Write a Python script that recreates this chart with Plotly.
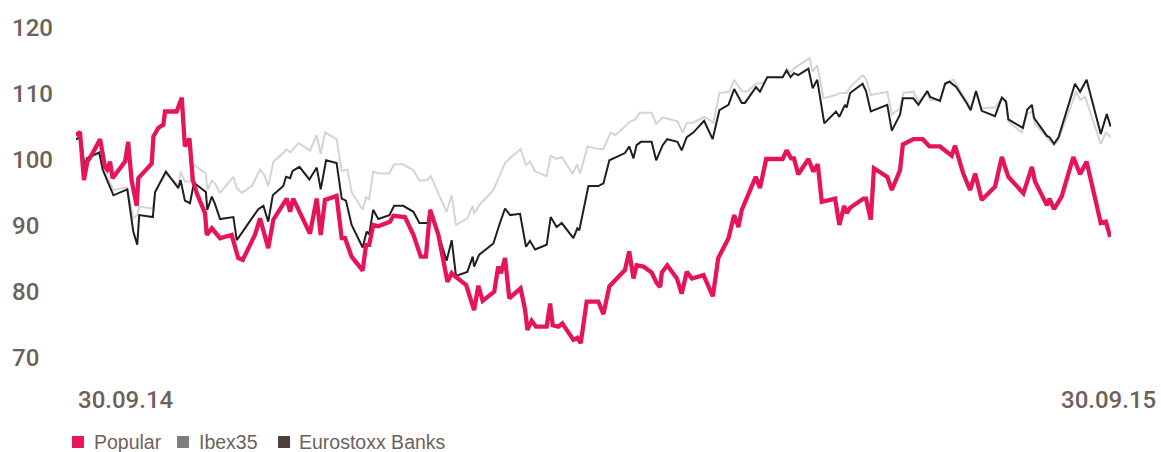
import pandas as pd
import plotly.graph_objects as go

# ---- data (days since 30.09.14, index value) ----
popular_days = [0, 1.4, 2.8, 4.0, 5.5, 8.5, 10.2, 11.0, 12.0, 12.9, 17.3, 18.4, 19.6, 21.4, 22.0, 26.7, 27.3, 29.0,
                30.8, 31.4, 35.5, 37.3, 38.4, 40.0, 41.2, 42.6, 45.5, 46.1, 47.9, 50.8, 54.9, 57.2, 58.8, 63.1, 64.9,
                67.8, 69.6, 74.3, 75.5, 76.6, 82.5, 84.9, 86.3, 87.8, 91.9, 93.7, 94.9, 97.2, 101.1, 102.3, 103.4,
                104.8, 106.6, 110.7, 111.9, 116.0, 119.0, 121.6, 123.4, 124.9, 127.8, 131.0, 132.5, 133.7, 137.6,
                140.4, 141.9, 143.4, 147.5, 148.9, 149.9, 151.3, 152.8, 156.8, 158.4, 159.2, 160.7, 162.2, 166.0,
                167.2, 168.1, 170.1, 171.5, 175.4, 176.8, 178.0, 180.1, 184.2, 186.0, 188.1, 193.6, 195.1, 196.6,
                197.7, 200.1, 203.0, 204.8, 206.0, 206.6, 208.5, 211.9, 213.6, 215.4, 217.2, 221.3, 224.6, 226.5,
                230.1, 232.1, 233.6, 234.8, 239.7, 241.2, 243.4, 249.2, 250.6, 252.2, 253.2, 254.7, 258.3, 260.0,
                261.6, 263.0, 267.7, 269.2, 270.9, 271.8, 273.0, 277.7, 278.6, 280.3, 281.4, 286.1, 287.7, 290.6,
                291.6, 295.3, 298.6, 301.0, 304.7, 308.8, 310.0, 312.9, 315.3, 317.1, 319.4, 324.1, 326.5, 328.8,
                334.1, 337.1, 338.2, 342.4, 343.3, 344.9, 347.6, 351.7, 354.1, 356.4, 361.4, 363.2, 364.7]
popular_vals = [103.6, 104.1, 96.8, 99.6, 100.6, 103.0, 98.8, 98.4, 99.6, 97.1, 99.6, 102.6, 96.8, 92.9, 97.1, 99.3,
                103.4, 104.7, 105.2, 107.2, 107.2, 109.3, 101.9, 103.1, 96.8, 94.8, 91.8, 88.5, 89.5, 88.0, 88.5,
                85.0, 84.7, 88.5, 91.0, 86.5, 90.8, 94.0, 92.0, 94.0, 88.7, 94.0, 88.5, 93.8, 94.4, 88.0, 88.0, 85.2,
                83.1, 87.0, 87.0, 90.0, 89.8, 90.5, 91.4, 91.2, 88.5, 85.2, 85.2, 92.3, 88.5, 81.4, 82.7, 82.2, 80.9,
                77.1, 80.8, 78.5, 79.9, 83.7, 82.7, 85.0, 78.9, 80.4, 77.1, 74.1, 75.5, 74.6, 74.6, 78.1, 74.8, 74.6,
                75.1, 72.6, 72.9, 72.1, 78.4, 78.4, 76.5, 80.7, 83.2, 86.0, 81.9, 83.9, 83.7, 82.8, 81.2, 80.6, 82.8,
                83.9, 81.9, 79.6, 82.9, 81.9, 82.4, 79.2, 85.0, 88.0, 91.5, 89.7, 92.3, 97.3, 95.6, 100.0, 100.0,
                101.3, 100.1, 100.1, 97.7, 100.0, 98.1, 99.2, 93.5, 94.0, 90.0, 92.9, 91.8, 92.6, 94.0, 94.0, 90.8,
                98.6, 97.3, 95.3, 98.3, 102.2, 103.0, 103.0, 101.9, 101.9, 100.5, 102.0, 97.8, 95.3, 97.8, 93.8,
                95.8, 100.3, 97.3, 94.8, 98.8, 96.6, 93.0, 94.0, 92.4, 94.3, 100.3, 97.7, 99.6, 90.3, 90.5, 88.2]

ibex_days = [0, 1.7, 3.2, 3.8, 8.2, 9.4, 13.2, 18.1, 20.2, 21.6, 22.3, 27.1, 27.9, 31.7, 36.1, 36.9, 38.4, 40.2,
             41.6, 45.8, 46.3, 47.9, 49.0, 50.8, 55.5, 56.7, 58.5, 62.0, 64.9, 66.4, 67.8, 69.6, 73.1, 74.3, 75.5,
             78.5, 82.5, 84.9, 86.3, 87.8, 89.5, 91.9, 93.7, 95.7, 97.2, 101.1, 102.3, 103.4, 104.8, 106.6, 110.5,
             112.2, 115.4, 119.0, 121.1, 123.9, 125.1, 130.7, 132.5, 134.0, 138.0, 139.9, 140.4, 142.2, 147.2,
             151.3, 154.0, 156.8, 158.7, 160.1, 161.9, 166.0, 167.4, 169.5, 171.3, 175.1, 176.8, 177.8, 180.4,
             184.2, 186.0, 188.5, 190.2, 195.5, 197.3, 198.8, 203.0, 204.6, 206.9, 212.1, 214.0, 215.4, 217.7,
             221.5, 224.8, 226.9, 230.4, 232.1, 234.8, 236.6, 239.8, 242.4, 243.8, 249.2, 250.6, 252.0, 253.2,
             254.7, 258.7, 259.8, 261.4, 263.6, 268.0, 269.2, 271.8, 273.0, 277.4, 278.6, 280.3, 286.1, 287.7,
             290.6, 291.8, 295.3, 297.1, 300.2, 301.2, 304.7, 306.5, 309.5, 314.1, 315.5, 317.4, 319.4, 324.1,
             326.5, 328.0, 328.8, 333.5, 335.5, 337.1, 338.2, 342.4, 344.9, 346.5, 352.7, 354.1, 355.9, 361.4,
             363.2, 364.9]
ibex_vals = [103.1, 103.0, 98.6, 100.2, 100.8, 98.8, 95.3, 95.7, 91.0, 91.5, 92.8, 92.5, 95.0, 97.8, 96.0, 98.1,
             96.6, 96.6, 99.1, 97.8, 95.3, 96.7, 96.3, 94.9, 97.3, 95.6, 94.9, 95.9, 98.4, 97.6, 95.9, 99.6, 100.9,
             101.5, 101.0, 102.4, 101.3, 103.6, 100.8, 104.0, 103.6, 103.0, 98.2, 98.4, 95.0, 92.3, 94.2, 93.9,
             98.1, 97.8, 97.8, 99.2, 99.2, 98.3, 96.7, 96.8, 97.4, 92.0, 94.5, 90.0, 91.0, 92.9, 91.7, 93.0, 95.3,
             99.4, 100.5, 101.5, 99.1, 99.6, 98.1, 97.4, 100.5, 100.0, 100.3, 97.8, 99.2, 97.8, 101.9, 101.5,
             101.5, 104.0, 103.6, 105.7, 106.0, 107.0, 107.0, 105.3, 106.3, 105.7, 104.0, 105.5, 105.5, 106.4,
             105.5, 110.0, 110.2, 112.0, 110.3, 110.2, 111.4, 111.5, 112.4, 112.4, 113.7, 113.1, 113.7, 114.1,
             115.3, 113.2, 114.2, 109.2, 109.7, 110.0, 110.0, 110.9, 112.7, 112.1, 109.7, 110.2, 106.7, 107.7,
             110.0, 110.2, 108.7, 110.0, 108.9, 109.0, 111.6, 112.0, 108.8, 107.8, 110.0, 107.7, 107.8, 109.2,
             108.5, 105.7, 104.0, 106.8, 107.2, 105.3, 103.3, 102.1, 102.9, 110.2, 109.0, 109.4, 102.3, 104.0,
             103.3]

banks_days = [0, 1.7, 3.2, 3.8, 8.2, 9.4, 13.2, 18.1, 20.2, 21.6, 22.3, 27.1, 27.9, 31.7, 36.1, 36.9, 38.4, 40.2,
              41.6, 45.8, 46.3, 47.9, 49.0, 50.8, 55.5, 56.7, 62.0, 64.3, 66.1, 67.8, 69.4, 73.1, 74.1, 75.5, 76.4,
              78.8, 82.3, 84.9, 86.3, 88.2, 91.9, 93.7, 95.2, 97.2, 101.1, 102.5, 103.4, 104.8, 106.6, 110.5, 112.2,
              115.4, 119.0, 121.1, 123.9, 125.1, 130.7, 132.5, 134.0, 138.0, 139.9, 140.4, 142.2, 147.2, 149.5,
              151.3, 153.1, 156.6, 158.7, 160.1, 161.9, 166.0, 167.4, 169.5, 171.3, 175.4, 176.8, 177.5, 180.7,
              184.2, 186.0, 188.1, 193.6, 195.1, 196.6, 197.7, 199.2, 203.0, 204.6, 206.9, 208.5, 212.1, 213.6,
              215.4, 217.7, 221.5, 224.5, 226.9, 230.1, 232.1, 234.8, 235.9, 239.8, 241.2, 243.8, 249.2, 250.6,
              252.0, 253.2, 254.7, 258.3, 259.8, 261.4, 263.9, 268.0, 269.2, 271.2, 271.8, 273.0, 277.4, 278.6,
              280.3, 286.1, 287.7, 290.6, 291.6, 295.3, 297.1, 300.2, 301.2, 304.7, 306.5, 308.0, 310.4, 314.1,
              315.5, 317.4, 319.4, 324.1, 326.5, 328.0, 328.8, 333.9, 335.5, 337.1, 337.9, 342.4, 343.3, 344.9,
              346.5, 352.3, 354.1, 356.4, 361.4, 363.5, 364.9]
banks_vals = [103.0, 103.3, 98.1, 100.1, 101.0, 98.4, 94.5, 95.4, 89.0, 87.0, 91.5, 91.2, 95.0, 98.1, 95.6, 96.8,
              93.7, 93.3, 96.4, 95.0, 92.3, 94.3, 93.2, 90.9, 91.2, 87.7, 91.0, 92.4, 92.9, 90.5, 94.5, 95.9, 97.3,
              97.1, 98.2, 98.8, 96.9, 98.7, 95.4, 99.8, 99.4, 94.0, 93.7, 90.0, 86.6, 89.0, 88.6, 92.3, 90.9, 91.5,
              92.9, 92.9, 92.0, 90.3, 90.3, 92.3, 84.6, 87.7, 82.3, 82.9, 85.2, 83.7, 85.5, 87.2, 90.3, 92.5, 91.5,
              91.7, 86.7, 87.6, 86.3, 87.0, 91.2, 89.7, 90.3, 88.0, 89.5, 89.2, 95.9, 95.9, 96.3, 99.8, 100.9,
              101.9, 100.1, 102.1, 102.6, 102.6, 99.8, 102.1, 103.0, 102.6, 101.3, 103.3, 104.0, 105.8, 103.0,
              107.4, 108.2, 110.6, 108.5, 108.5, 110.9, 110.2, 112.4, 112.4, 113.4, 112.4, 113.0, 112.7, 113.7,
              110.7, 112.0, 105.4, 107.2, 106.4, 108.2, 107.8, 110.0, 111.4, 110.3, 107.2, 108.2, 104.3, 106.7,
              109.2, 109.2, 108.2, 110.3, 109.4, 108.8, 111.4, 111.7, 110.9, 108.5, 107.4, 110.3, 107.3, 106.5,
              109.3, 108.7, 106.0, 104.7, 107.5, 108.2, 106.2, 103.5, 103.3, 102.3, 103.3, 111.4, 110.2, 112.0,
              103.8, 106.8, 104.9]

y_ticks = [120, 110, 100, 90, 80, 70]
start_label = "30.09.14"
end_label = "30.09.15"
series_names = ["Popular", "Ibex35", "Eurostoxx Banks"]
legend_colors = ["#e8175d", "#7f7f83", "#4c3f3a"]

base = pd.Timestamp("2014-09-30")
def to_dates(days):
    return [base + pd.Timedelta(days=d) for d in days]

TEXT = "#6d625b"
FONT = "Roboto"
LEGEND_FONT = "Liberation Sans"

fig = go.Figure()
fig.add_trace(go.Scatter(x=to_dates(ibex_days), y=ibex_vals, mode="lines", name=series_names[1],
                         line=dict(color="#d4d4d4", width=2), showlegend=False, hoverinfo="skip"))
fig.add_trace(go.Scatter(x=to_dates(banks_days), y=banks_vals, mode="lines", name=series_names[2],
                         line=dict(color="#1f1f1f", width=2), showlegend=False, hoverinfo="skip"))
fig.add_trace(go.Scatter(x=to_dates(popular_days), y=popular_vals, mode="lines", name=series_names[0],
                         line=dict(color="#e6145a", width=4.3), showlegend=False, hoverinfo="skip"))

annotations = []
shapes = []
for t in y_ticks:
    annotations.append(dict(x=-0.0638, xref="paper", y=t, yref="y", text=str(t), showarrow=False,
                            xanchor="left", yanchor="middle", yshift=-1,
                            font=dict(family=FONT, size=24, color=TEXT, weight=500)))
annotations.append(dict(x=0, xref="paper", y=-0.13, yref="paper", text=start_label, showarrow=False,
                        xanchor="left", yanchor="middle",
                        font=dict(family=FONT, size=24, color=TEXT, weight=500)))
annotations.append(dict(x=1.0454, xref="paper", y=-0.13, yref="paper", text=end_label, showarrow=False,
                        xanchor="right", yanchor="middle",
                        font=dict(family=FONT, size=24, color=TEXT, weight=500)))

# custom legend (squares + labels), placed below the plot
legend_sq_x = [-0.0039, 0.0976, 0.1952]      # left edges of squares (paper)
legend_txt_x = [0.0155, 0.1165, 0.2135]      # left edges of labels (paper)
sq_w = 0.0116
for name, col, sx, tx in zip(series_names, legend_colors, legend_sq_x, legend_txt_x):
    shapes.append(dict(type="rect", xref="paper", yref="paper", x0=sx, x1=sx + sq_w,
                       y0=-0.2758, y1=-0.2394, fillcolor=col, line=dict(width=0)))
    annotations.append(dict(x=tx, xref="paper", y=-0.2576, yref="paper", text=name, showarrow=False,
                            xanchor="left", yanchor="middle",
                            font=dict(family=LEGEND_FONT, size=19.5, color=TEXT)))

fig.update_layout(
    width=1161, height=452,
    margin=dict(l=76, r=50, t=27, b=95),
    plot_bgcolor="white", paper_bgcolor="white",
    xaxis=dict(range=[base, base + pd.Timedelta(days=365)], showgrid=False, zeroline=False,
               showticklabels=False, showline=False, ticks=""),
    yaxis=dict(range=[70, 120], showgrid=False, zeroline=False, showticklabels=False,
               showline=False, ticks=""),
    showlegend=False,
    annotations=annotations,
    shapes=shapes,
)

fig.write_html("out.html", config={"displayModeBar": False},
               post_script="document.body.style.margin='0px';")
